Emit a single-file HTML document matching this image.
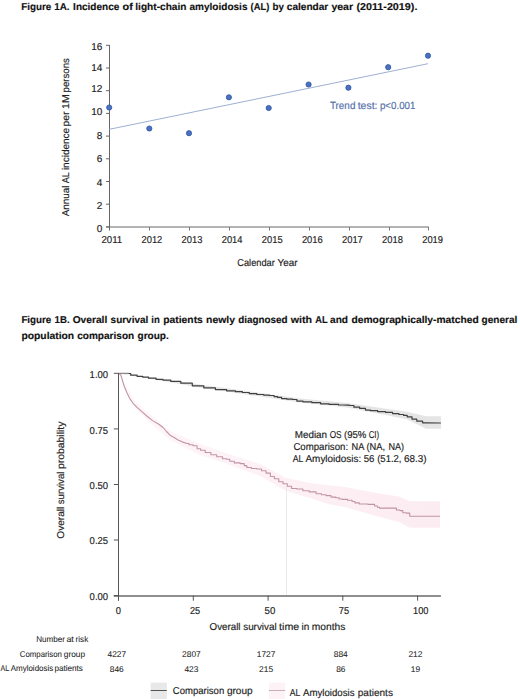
<!DOCTYPE html>
<html><head><meta charset="utf-8"><style>
html,body{margin:0;padding:0;background:#fff;}
body{width:520px;height:699px;overflow:hidden;}
svg{display:block;font-family:"Liberation Sans", sans-serif;text-rendering:geometricPrecision;}
</style></head><body>
<svg width="520" height="699" viewBox="0 0 520 699">
<g shape-rendering="auto">
<line x1="106" y1="227" x2="428.8" y2="227" stroke="#9a9a9a" stroke-width="1.6"/>
<line x1="109.5" y1="45" x2="109.5" y2="230.5" stroke="#666" stroke-width="1"/>
<line x1="106" y1="226.9" x2="109.5" y2="226.9" stroke="#666" stroke-width="1"/>
<line x1="106" y1="204.2" x2="109.5" y2="204.2" stroke="#666" stroke-width="1"/>
<line x1="106" y1="181.5" x2="109.5" y2="181.5" stroke="#666" stroke-width="1"/>
<line x1="106" y1="158.8" x2="109.5" y2="158.8" stroke="#666" stroke-width="1"/>
<line x1="106" y1="136.1" x2="109.5" y2="136.1" stroke="#666" stroke-width="1"/>
<line x1="106" y1="113.4" x2="109.5" y2="113.4" stroke="#666" stroke-width="1"/>
<line x1="106" y1="90.7" x2="109.5" y2="90.7" stroke="#666" stroke-width="1"/>
<line x1="106" y1="68.0" x2="109.5" y2="68.0" stroke="#666" stroke-width="1"/>
<line x1="106" y1="45.3" x2="109.5" y2="45.3" stroke="#666" stroke-width="1"/>
<line x1="149.5" y1="227" x2="149.5" y2="230.5" stroke="#7a7a7a" stroke-width="1"/>
<line x1="189.5" y1="227" x2="189.5" y2="230.5" stroke="#7a7a7a" stroke-width="1"/>
<line x1="229.5" y1="227" x2="229.5" y2="230.5" stroke="#7a7a7a" stroke-width="1"/>
<line x1="269.5" y1="227" x2="269.5" y2="230.5" stroke="#7a7a7a" stroke-width="1"/>
<line x1="309.5" y1="227" x2="309.5" y2="230.5" stroke="#7a7a7a" stroke-width="1"/>
<line x1="349.5" y1="227" x2="349.5" y2="230.5" stroke="#7a7a7a" stroke-width="1"/>
<line x1="389.5" y1="227" x2="389.5" y2="230.5" stroke="#7a7a7a" stroke-width="1"/>
<line x1="428.5" y1="227" x2="428.5" y2="230.5" stroke="#7a7a7a" stroke-width="1"/>
<line x1="109.3" y1="129.3" x2="428" y2="63.7" stroke="#9fb0d4" stroke-width="1"/>
<circle cx="109.2" cy="107.5" r="2.6" fill="#4a72c0" stroke="#2f55a3" stroke-width="0.8"/>
<circle cx="149.3" cy="128.5" r="2.6" fill="#4a72c0" stroke="#2f55a3" stroke-width="0.8"/>
<circle cx="189.0" cy="133.2" r="2.6" fill="#4a72c0" stroke="#2f55a3" stroke-width="0.8"/>
<circle cx="228.9" cy="97.3" r="2.6" fill="#4a72c0" stroke="#2f55a3" stroke-width="0.8"/>
<circle cx="268.7" cy="108.0" r="2.6" fill="#4a72c0" stroke="#2f55a3" stroke-width="0.8"/>
<circle cx="308.6" cy="84.5" r="2.6" fill="#4a72c0" stroke="#2f55a3" stroke-width="0.8"/>
<circle cx="348.4" cy="87.7" r="2.6" fill="#4a72c0" stroke="#2f55a3" stroke-width="0.8"/>
<circle cx="388.2" cy="67.2" r="2.6" fill="#4a72c0" stroke="#2f55a3" stroke-width="0.8"/>
<circle cx="428.0" cy="55.7" r="2.6" fill="#4a72c0" stroke="#2f55a3" stroke-width="0.8"/>
</g>
<defs><linearGradient id="gb" gradientUnits="userSpaceOnUse" x1="118" y1="0" x2="440" y2="0"><stop offset="0" stop-color="#fef6f8"/><stop offset="0.55" stop-color="#fdf0f4"/><stop offset="1" stop-color="#fbecf1"/></linearGradient></defs>
<polygon points="118.5,373.3 125.0,384.0 135.0,401.0 150.0,414.0 170.0,431.0 200.0,444.0 230.0,454.5 260.0,464.0 285.0,477.5 310.0,483.0 330.0,485.5 345.0,487.0 376.0,493.0 399.0,496.5 409.6,501.2 440.0,501.2 440.0,527.7 409.6,527.7 399.0,522.0 376.0,516.0 345.0,507.0 330.0,504.6 310.0,498.0 285.0,490.5 260.0,476.0 230.0,465.0 200.0,455.0 170.0,440.0 150.0,423.0 135.0,408.0 125.0,389.0 118.5,373.3" fill="url(#gb)"/>
<polygon points="118.5,373.0 200.0,384.5 300.0,398.5 347.0,403.0 407.0,411.8 426.0,416.3 441.0,416.3 441.0,428.8 426.0,428.8 407.0,419.3 347.0,407.5 300.0,402.5 200.0,387.5 118.5,373.6" fill="#e5e5e5"/>
<line x1="286.5" y1="486" x2="286.5" y2="595.5" stroke="#eeeaec" stroke-width="1"/>
<polyline points="118.5,373.3 120.9,375.0 122.6,380.8 124.3,386.5 126.7,392.3 129.5,398.1 133.0,403.3 137.6,407.9 142.2,411.9 146.8,416.0 152.6,420.6 158.4,424.0 163.0,427.5 166.5,431.5 170.0,435.2 174.6,437.7 178.1,440.0 182.7,442.1 187.3,443.5 189.1,443.5 189.1,444.8 190.8,444.8 193.1,444.8 193.1,445.8 195.4,445.8 197.1,445.8 197.1,448.7 198.8,448.7 200.6,448.7 200.6,450.2 202.3,450.2 205.2,450.2 205.2,452.5 208.1,452.5 210.9,452.5 210.9,454.8 213.8,454.8 216.7,454.8 216.7,456.7 219.6,456.7 222.5,456.7 222.5,458.7 225.4,458.7 226.7,458.7 226.7,459.2 228.0,459.2 229.8,459.2 229.8,461.3 231.5,461.3 234.3,461.3 234.3,462.9 237.2,462.9 240.1,462.9 240.1,463.6 243.0,463.6 244.2,463.6 244.2,465.6 245.3,465.6 246.8,465.6 246.8,467.5 248.2,467.5 251.3,467.5 251.3,468.5 254.5,468.5 256.9,468.5 256.9,469.0 259.2,469.0 261.5,469.0 261.5,470.8 263.8,470.8 266.1,470.8 266.1,473.1 268.4,473.1 270.4,473.1 270.4,476.5 272.4,476.5 274.4,476.5 274.4,478.8 276.5,478.8 278.8,478.8 278.8,481.7 281.1,481.7 283.1,481.7 283.1,483.8 285.0,483.8 287.3,483.8 287.3,486.2 289.6,486.2 291.6,486.2 291.6,488.5 293.7,488.5 296.9,488.5 296.9,489.0 300.0,489.0 302.9,489.0 302.9,490.8 305.8,490.8 309.2,490.8 309.2,491.9 312.7,491.9 316.1,491.9 316.1,493.7 319.6,493.7 321.4,493.7 321.4,494.8 323.1,494.8 326.0,494.8 326.0,495.6 328.8,495.6 331.1,495.6 331.1,497.1 333.5,497.1 335.8,497.1 335.8,497.7 338.1,497.7 339.2,497.7 339.2,499.0 340.4,499.0 342.5,499.0 342.5,499.4 344.6,499.4 347.5,499.4 347.5,500.3 350.4,500.3 352.1,500.3 352.1,501.5 353.8,501.5 355.0,501.5 355.0,502.9 356.2,502.9 359.4,502.9 359.4,504.0 362.5,504.0 368.0,504.0 368.0,504.4 373.5,504.4 374.6,504.4 374.6,506.0 375.8,506.0 377.5,506.0 377.5,507.2 379.2,507.2 379.5,507.2 379.5,508.1 379.8,508.1 395.4,508.1 396.4,508.1 396.4,510.0 397.5,510.0 400.0,510.0 400.0,510.6 402.5,510.6 402.8,510.6 402.8,512.8 403.1,512.8 406.2,512.8 406.2,513.1 409.4,513.1 409.7,513.1 409.7,516.3 410.0,516.3 440.0,516.3" fill="none" stroke="#c294a8" stroke-width="1.1" stroke-linejoin="round"/>
<polyline points="118.5,373.3 128.6,373.4" fill="none" stroke="#8a8a8a" stroke-width="1.2"/>
<polyline points="128.4,373.5 130.7,373.5 130.7,375.2 133.0,375.2 137.1,375.2 137.1,376.3 141.1,376.3 142.8,376.3 142.8,377.2 144.5,377.2 148.6,377.2 148.6,378.2 152.6,378.2 156.1,378.2 156.1,379.3 159.5,379.3 163.0,379.3 163.0,380.1 166.5,380.1 170.8,380.1 170.8,381.4 175.0,381.4 180.8,381.4 180.8,383.2 186.5,383.2 192.3,383.2 192.3,385.8 198.1,385.8 203.8,385.8 203.8,387.9 209.6,387.9 215.4,387.9 215.4,389.6 221.2,389.6 226.6,389.6 226.6,390.8 232.0,390.8 235.4,390.8 235.4,391.7 238.9,391.7 242.4,391.7 242.4,392.5 245.8,392.5 249.3,392.5 249.3,393.6 252.8,393.6 256.8,393.6 256.8,394.5 260.8,394.5 263.7,394.5 263.7,395.1 266.6,395.1 269.5,395.1 269.5,395.5 272.4,395.5 274.1,395.5 274.1,396.6 275.8,396.6 277.6,396.6 277.6,397.4 279.3,397.4 281.6,397.4 281.6,398.6 283.9,398.6 286.9,398.6 286.9,399.2 290.0,399.2 292.6,399.2 292.6,399.5 295.2,399.5 296.9,399.5 296.9,401.2 298.7,401.2 303.0,401.2 303.0,401.8 307.3,401.8 311.9,401.8 311.9,402.7 316.5,402.7 320.6,402.7 320.6,403.8 324.6,403.8 329.2,403.8 329.2,404.4 333.8,404.4 338.5,404.4 338.5,405.0 343.1,405.0 347.0,405.2 349.3,405.2 349.3,405.5 351.6,405.5 353.9,405.5 353.9,407.2 356.2,407.2 359.7,407.2 359.7,408.4 363.2,408.4 365.5,408.4 365.5,410.1 367.8,410.1 370.6,410.1 370.6,410.7 373.5,410.7 377.6,410.7 377.6,411.6 381.6,411.6 385.6,411.6 385.6,412.4 389.7,412.4 392.6,412.4 392.6,413.6 395.5,413.6 398.9,413.6 398.9,414.5 402.4,414.5 403.6,414.5 403.6,415.4 404.8,415.4 407.2,415.4 407.2,416.8 409.6,416.8 412.0,416.8 412.0,419.2 414.4,419.2 416.8,419.2 416.8,421.2 419.2,421.2 422.6,421.2 422.6,422.8 426.0,422.8 440.9,423.0" fill="none" stroke="#404040" stroke-width="1.2" stroke-linejoin="round"/>
<line x1="118.5" y1="373.3" x2="118.5" y2="600.7" stroke="#555" stroke-width="1"/>
<line x1="113.8" y1="596" x2="440.9" y2="596" stroke="#6a6a6a" stroke-width="1.5"/>
<line x1="113.8" y1="373.3" x2="118.5" y2="373.3" stroke="#555" stroke-width="1"/>
<line x1="113.8" y1="428.9" x2="118.5" y2="428.9" stroke="#555" stroke-width="1"/>
<line x1="113.8" y1="484.5" x2="118.5" y2="484.5" stroke="#555" stroke-width="1"/>
<line x1="113.8" y1="540.0" x2="118.5" y2="540.0" stroke="#555" stroke-width="1"/>
<line x1="113.8" y1="595.6" x2="118.5" y2="595.6" stroke="#555" stroke-width="1"/>
<line x1="118.5" y1="595.6" x2="118.5" y2="600.7" stroke="#555" stroke-width="1"/>
<line x1="193.3" y1="595.6" x2="193.3" y2="600.7" stroke="#555" stroke-width="1"/>
<line x1="268.1" y1="595.6" x2="268.1" y2="600.7" stroke="#555" stroke-width="1"/>
<line x1="342.8" y1="595.6" x2="342.8" y2="600.7" stroke="#555" stroke-width="1"/>
<line x1="417.6" y1="595.6" x2="417.6" y2="600.7" stroke="#555" stroke-width="1"/>
<rect x="150.6" y="682.6" width="16.2" height="16.4" fill="#e8e8e8"/>
<line x1="150.6" y1="690.5" x2="166.8" y2="690.5" stroke="#555" stroke-width="1"/>
<rect x="269" y="682.6" width="16.2" height="16.4" fill="#fdf3f6"/>
<line x1="269" y1="690.5" x2="285.2" y2="690.5" stroke="#c9adbb" stroke-width="1"/>
<text x="21.3" y="9.6" font-size="10.00" fill="#111" font-weight="bold" textLength="30.0" lengthAdjust="spacingAndGlyphs" stroke="#111" stroke-width="0.15">Figure</text>
<text x="54.3" y="9.6" font-size="10.00" fill="#111" font-weight="bold" textLength="15.3" lengthAdjust="spacingAndGlyphs" stroke="#111" stroke-width="0.15">1A.</text>
<text x="73.1" y="9.6" font-size="10.00" fill="#111" font-weight="bold" textLength="46.2" lengthAdjust="spacingAndGlyphs" stroke="#111" stroke-width="0.15">Incidence</text>
<text x="122.6" y="9.6" font-size="10.00" fill="#111" font-weight="bold" textLength="10.3" lengthAdjust="spacingAndGlyphs" stroke="#111" stroke-width="0.15">of</text>
<text x="135.3" y="9.6" font-size="10.00" fill="#111" font-weight="bold" textLength="51.2" lengthAdjust="spacingAndGlyphs" stroke="#111" stroke-width="0.15">light-chain</text>
<text x="189.5" y="9.6" font-size="10.00" fill="#111" font-weight="bold" textLength="58.0" lengthAdjust="spacingAndGlyphs" stroke="#111" stroke-width="0.15">amyloidosis</text>
<text x="250.6" y="9.6" font-size="10.00" fill="#111" font-weight="bold" textLength="18.7" lengthAdjust="spacingAndGlyphs" stroke="#111" stroke-width="0.15">(AL)</text>
<text x="272.6" y="9.6" font-size="10.00" fill="#111" font-weight="bold" textLength="11.4" lengthAdjust="spacingAndGlyphs" stroke="#111" stroke-width="0.15">by</text>
<text x="286.8" y="9.6" font-size="10.00" fill="#111" font-weight="bold" textLength="41.5" lengthAdjust="spacingAndGlyphs" stroke="#111" stroke-width="0.15">calendar</text>
<text x="331.4" y="9.6" font-size="10.00" fill="#111" font-weight="bold" textLength="21.7" lengthAdjust="spacingAndGlyphs" stroke="#111" stroke-width="0.15">year</text>
<text x="356.4" y="9.6" font-size="10.00" fill="#111" font-weight="bold" textLength="61.0" lengthAdjust="spacingAndGlyphs" stroke="#111" stroke-width="0.15">(2011-2019).</text>
<text x="102.4" y="231.8" font-size="10.00" fill="#222" text-anchor="end" stroke="#222" stroke-width="0.16">0</text>
<text x="102.4" y="209.1" font-size="10.00" fill="#222" text-anchor="end" stroke="#222" stroke-width="0.16">2</text>
<text x="102.4" y="186.1" font-size="10.00" fill="#222" text-anchor="end" stroke="#222" stroke-width="0.16">4</text>
<text x="102.4" y="162.2" font-size="10.00" fill="#222" text-anchor="end" stroke="#222" stroke-width="0.16">6</text>
<text x="102.4" y="138.6" font-size="10.00" fill="#222" text-anchor="end" stroke="#222" stroke-width="0.16">8</text>
<text x="102.4" y="115.4" font-size="10.00" fill="#222" text-anchor="end" stroke="#222" stroke-width="0.16">10</text>
<text x="102.4" y="92.0" font-size="10.00" fill="#222" text-anchor="end" stroke="#222" stroke-width="0.16">12</text>
<text x="102.4" y="71.1" font-size="10.00" fill="#222" text-anchor="end" stroke="#222" stroke-width="0.16">14</text>
<text x="102.4" y="50.2" font-size="10.00" fill="#222" text-anchor="end" stroke="#222" stroke-width="0.16">16</text>
<text x="111.8" y="243.2" font-size="10.00" fill="#222" text-anchor="middle" textLength="20.8" lengthAdjust="spacingAndGlyphs" stroke="#222" stroke-width="0.16">2011</text>
<text x="151.9" y="243.2" font-size="10.00" fill="#222" text-anchor="middle" textLength="20.8" lengthAdjust="spacingAndGlyphs" stroke="#222" stroke-width="0.16">2012</text>
<text x="192.0" y="243.2" font-size="10.00" fill="#222" text-anchor="middle" textLength="20.8" lengthAdjust="spacingAndGlyphs" stroke="#222" stroke-width="0.16">2013</text>
<text x="232.1" y="243.2" font-size="10.00" fill="#222" text-anchor="middle" textLength="20.8" lengthAdjust="spacingAndGlyphs" stroke="#222" stroke-width="0.16">2014</text>
<text x="272.2" y="243.2" font-size="10.00" fill="#222" text-anchor="middle" textLength="20.8" lengthAdjust="spacingAndGlyphs" stroke="#222" stroke-width="0.16">2015</text>
<text x="312.3" y="243.2" font-size="10.00" fill="#222" text-anchor="middle" textLength="20.8" lengthAdjust="spacingAndGlyphs" stroke="#222" stroke-width="0.16">2016</text>
<text x="352.4" y="243.2" font-size="10.00" fill="#222" text-anchor="middle" textLength="20.8" lengthAdjust="spacingAndGlyphs" stroke="#222" stroke-width="0.16">2017</text>
<text x="392.5" y="243.2" font-size="10.00" fill="#222" text-anchor="middle" textLength="20.8" lengthAdjust="spacingAndGlyphs" stroke="#222" stroke-width="0.16">2018</text>
<text x="432.6" y="243.2" font-size="10.00" fill="#222" text-anchor="middle" textLength="20.8" lengthAdjust="spacingAndGlyphs" stroke="#222" stroke-width="0.16">2019</text>
<text x="237.3" y="265.7" font-size="10.00" fill="#222" textLength="37.5" lengthAdjust="spacingAndGlyphs" stroke="#222" stroke-width="0.16">Calendar</text>
<text x="277.6" y="265.7" font-size="10.00" fill="#222" textLength="20.0" lengthAdjust="spacingAndGlyphs" stroke="#222" stroke-width="0.16">Year</text>
<text x="69.2" y="216.2" font-size="9.90" fill="#222" textLength="30.6" lengthAdjust="spacingAndGlyphs" transform="rotate(-90 69.2 216.2)" stroke="#222" stroke-width="0.16">Annual</text>
<text x="69.2" y="183.2" font-size="9.90" fill="#222" textLength="11.1" lengthAdjust="spacingAndGlyphs" transform="rotate(-90 69.2 183.2)" stroke="#222" stroke-width="0.16">AL</text>
<text x="69.2" y="170.1" font-size="9.90" fill="#222" textLength="42.3" lengthAdjust="spacingAndGlyphs" transform="rotate(-90 69.2 170.1)" stroke="#222" stroke-width="0.16">incidence</text>
<text x="69.2" y="126.6" font-size="9.90" fill="#222" textLength="15.1" lengthAdjust="spacingAndGlyphs" transform="rotate(-90 69.2 126.6)" stroke="#222" stroke-width="0.16">per</text>
<text x="69.2" y="108.9" font-size="9.90" fill="#222" textLength="14.7" lengthAdjust="spacingAndGlyphs" transform="rotate(-90 69.2 108.9)" stroke="#222" stroke-width="0.16">1M</text>
<text x="69.2" y="92.4" font-size="9.90" fill="#222" textLength="34.2" lengthAdjust="spacingAndGlyphs" transform="rotate(-90 69.2 92.4)" stroke="#222" stroke-width="0.16">persons</text>
<text x="329.9" y="108.8" font-size="10.40" fill="#5470aa" textLength="25.5" lengthAdjust="spacingAndGlyphs" stroke="#5470aa" stroke-width="0.16">Trend</text>
<text x="357.7" y="108.8" font-size="10.40" fill="#5470aa" textLength="19.8" lengthAdjust="spacingAndGlyphs" stroke="#5470aa" stroke-width="0.16">test:</text>
<text x="379.9" y="108.8" font-size="10.40" fill="#5470aa" textLength="35.5" lengthAdjust="spacingAndGlyphs" stroke="#5470aa" stroke-width="0.16">p&lt;0.001</text>
<text x="21.4" y="322.8" font-size="10.00" fill="#111" font-weight="bold" textLength="29.9" lengthAdjust="spacingAndGlyphs" stroke="#111" stroke-width="0.15">Figure</text>
<text x="54.6" y="322.8" font-size="10.00" fill="#111" font-weight="bold" textLength="15.0" lengthAdjust="spacingAndGlyphs" stroke="#111" stroke-width="0.15">1B.</text>
<text x="72.7" y="322.8" font-size="10.00" fill="#111" font-weight="bold" textLength="34.6" lengthAdjust="spacingAndGlyphs" stroke="#111" stroke-width="0.15">Overall</text>
<text x="110.6" y="322.8" font-size="10.00" fill="#111" font-weight="bold" textLength="37.7" lengthAdjust="spacingAndGlyphs" stroke="#111" stroke-width="0.15">survival</text>
<text x="151.3" y="322.8" font-size="10.00" fill="#111" font-weight="bold" textLength="8.5" lengthAdjust="spacingAndGlyphs" stroke="#111" stroke-width="0.15">in</text>
<text x="163.3" y="322.8" font-size="10.00" fill="#111" font-weight="bold" textLength="39.5" lengthAdjust="spacingAndGlyphs" stroke="#111" stroke-width="0.15">patients</text>
<text x="206.1" y="322.8" font-size="10.00" fill="#111" font-weight="bold" textLength="28.9" lengthAdjust="spacingAndGlyphs" stroke="#111" stroke-width="0.15">newly</text>
<text x="238.3" y="322.8" font-size="10.00" fill="#111" font-weight="bold" textLength="49.3" lengthAdjust="spacingAndGlyphs" stroke="#111" stroke-width="0.15">diagnosed</text>
<text x="290.7" y="322.8" font-size="10.00" fill="#111" font-weight="bold" textLength="21.3" lengthAdjust="spacingAndGlyphs" stroke="#111" stroke-width="0.15">with</text>
<text x="315.3" y="322.8" font-size="10.00" fill="#111" font-weight="bold" textLength="12.3" lengthAdjust="spacingAndGlyphs" stroke="#111" stroke-width="0.15">AL</text>
<text x="330.0" y="322.8" font-size="10.00" fill="#111" font-weight="bold" textLength="18.0" lengthAdjust="spacingAndGlyphs" stroke="#111" stroke-width="0.15">and</text>
<text x="351.5" y="322.8" font-size="10.00" fill="#111" font-weight="bold" textLength="127.2" lengthAdjust="spacingAndGlyphs" stroke="#111" stroke-width="0.15">demographically-matched</text>
<text x="481.5" y="322.8" font-size="10.00" fill="#111" font-weight="bold" textLength="35.8" lengthAdjust="spacingAndGlyphs" stroke="#111" stroke-width="0.15">general</text>
<text x="21.4" y="338.5" font-size="10.00" fill="#111" font-weight="bold" textLength="52.8" lengthAdjust="spacingAndGlyphs" stroke="#111" stroke-width="0.15">population</text>
<text x="77.2" y="338.5" font-size="10.00" fill="#111" font-weight="bold" textLength="57.0" lengthAdjust="spacingAndGlyphs" stroke="#111" stroke-width="0.15">comparison</text>
<text x="137.5" y="338.5" font-size="10.00" fill="#111" font-weight="bold" textLength="31.2" lengthAdjust="spacingAndGlyphs" stroke="#111" stroke-width="0.15">group.</text>
<text x="89.6" y="377.9" font-size="10.00" fill="#222" textLength="18.5" lengthAdjust="spacingAndGlyphs" stroke="#222" stroke-width="0.16">1.00</text>
<text x="89.6" y="433.5" font-size="10.00" fill="#222" textLength="18.5" lengthAdjust="spacingAndGlyphs" stroke="#222" stroke-width="0.16">0.75</text>
<text x="89.6" y="488.8" font-size="10.00" fill="#222" textLength="18.5" lengthAdjust="spacingAndGlyphs" stroke="#222" stroke-width="0.16">0.50</text>
<text x="89.6" y="543.5" font-size="10.00" fill="#222" textLength="18.5" lengthAdjust="spacingAndGlyphs" stroke="#222" stroke-width="0.16">0.25</text>
<text x="89.6" y="599.9" font-size="10.00" fill="#222" textLength="18.5" lengthAdjust="spacingAndGlyphs" stroke="#222" stroke-width="0.16">0.00</text>
<text x="118.4" y="614.4" font-size="10.00" fill="#222" text-anchor="middle" textLength="5.2" lengthAdjust="spacingAndGlyphs" stroke="#222" stroke-width="0.16">0</text>
<text x="195.1" y="614.4" font-size="10.00" fill="#222" text-anchor="middle" textLength="10.2" lengthAdjust="spacingAndGlyphs" stroke="#222" stroke-width="0.16">25</text>
<text x="269.9" y="614.4" font-size="10.00" fill="#222" text-anchor="middle" textLength="10.7" lengthAdjust="spacingAndGlyphs" stroke="#222" stroke-width="0.16">50</text>
<text x="343.9" y="614.4" font-size="10.00" fill="#222" text-anchor="middle" textLength="10.3" lengthAdjust="spacingAndGlyphs" stroke="#222" stroke-width="0.16">75</text>
<text x="420.7" y="614.4" font-size="10.00" fill="#222" text-anchor="middle" textLength="15.4" lengthAdjust="spacingAndGlyphs" stroke="#222" stroke-width="0.16">100</text>
<text x="209.6" y="629.6" font-size="10.00" fill="#222" textLength="30.9" lengthAdjust="spacingAndGlyphs" stroke="#222" stroke-width="0.16">Overall</text>
<text x="243.2" y="629.6" font-size="10.00" fill="#222" textLength="33.5" lengthAdjust="spacingAndGlyphs" stroke="#222" stroke-width="0.16">survival</text>
<text x="279.1" y="629.6" font-size="10.00" fill="#222" textLength="20.1" lengthAdjust="spacingAndGlyphs" stroke="#222" stroke-width="0.16">time</text>
<text x="301.5" y="629.6" font-size="10.00" fill="#222" textLength="7.8" lengthAdjust="spacingAndGlyphs" stroke="#222" stroke-width="0.16">in</text>
<text x="311.8" y="629.6" font-size="10.00" fill="#222" textLength="33.6" lengthAdjust="spacingAndGlyphs" stroke="#222" stroke-width="0.16">months</text>
<text x="63.8" y="538.7" font-size="10.00" fill="#222" textLength="32.0" lengthAdjust="spacingAndGlyphs" transform="rotate(-90 63.8 538.7)" stroke="#222" stroke-width="0.16">Overall</text>
<text x="63.8" y="504.2" font-size="10.00" fill="#222" textLength="32.6" lengthAdjust="spacingAndGlyphs" transform="rotate(-90 63.8 504.2)" stroke="#222" stroke-width="0.16">survival</text>
<text x="63.8" y="469.1" font-size="10.00" fill="#222" textLength="47.5" lengthAdjust="spacingAndGlyphs" transform="rotate(-90 63.8 469.1)" stroke="#222" stroke-width="0.16">probability</text>
<text x="294.7" y="437.5" font-size="10.00" fill="#222" textLength="32.4" lengthAdjust="spacingAndGlyphs" stroke="#222" stroke-width="0.16">Median</text>
<text x="329.7" y="437.5" font-size="10.00" fill="#222" textLength="11.9" lengthAdjust="spacingAndGlyphs" stroke="#222" stroke-width="0.16">OS</text>
<text x="344.0" y="437.5" font-size="10.00" fill="#222" textLength="22.4" lengthAdjust="spacingAndGlyphs" stroke="#222" stroke-width="0.16">(95%</text>
<text x="368.7" y="437.5" font-size="10.00" fill="#222" textLength="10.5" lengthAdjust="spacingAndGlyphs" stroke="#222" stroke-width="0.16">CI)</text>
<text x="293.4" y="449.9" font-size="10.00" fill="#222" textLength="54.7" lengthAdjust="spacingAndGlyphs" stroke="#222" stroke-width="0.16">Comparison:</text>
<text x="351.6" y="449.9" font-size="10.00" fill="#222" textLength="12.8" lengthAdjust="spacingAndGlyphs" stroke="#222" stroke-width="0.16">NA</text>
<text x="366.5" y="449.9" font-size="10.00" fill="#222" textLength="18.6" lengthAdjust="spacingAndGlyphs" stroke="#222" stroke-width="0.16">(NA,</text>
<text x="388.4" y="449.9" font-size="10.00" fill="#222" textLength="15.6" lengthAdjust="spacingAndGlyphs" stroke="#222" stroke-width="0.16">NA)</text>
<text x="292.8" y="461.7" font-size="10.00" fill="#222" textLength="10.6" lengthAdjust="spacingAndGlyphs" stroke="#222" stroke-width="0.16">AL</text>
<text x="305.5" y="461.7" font-size="10.00" fill="#222" textLength="55.7" lengthAdjust="spacingAndGlyphs" stroke="#222" stroke-width="0.16">Amyloidosis:</text>
<text x="363.7" y="461.7" font-size="10.00" fill="#222" textLength="10.7" lengthAdjust="spacingAndGlyphs" stroke="#222" stroke-width="0.16">56</text>
<text x="377.2" y="461.7" font-size="10.00" fill="#222" textLength="24.3" lengthAdjust="spacingAndGlyphs" stroke="#222" stroke-width="0.16">(51.2,</text>
<text x="404.0" y="461.7" font-size="10.00" fill="#222" textLength="22.6" lengthAdjust="spacingAndGlyphs" stroke="#222" stroke-width="0.16">68.3)</text>
<text x="36.3" y="641.5" font-size="8.40" fill="#222" textLength="28.7" lengthAdjust="spacingAndGlyphs" stroke="#222" stroke-width="0.06">Number</text>
<text x="66.4" y="641.5" font-size="8.40" fill="#222" textLength="7.4" lengthAdjust="spacingAndGlyphs" stroke="#222" stroke-width="0.06">at</text>
<text x="75.6" y="641.5" font-size="8.40" fill="#222" textLength="12.6" lengthAdjust="spacingAndGlyphs" stroke="#222" stroke-width="0.06">risk</text>
<text x="19.8" y="656.5" font-size="8.40" fill="#222" textLength="42.1" lengthAdjust="spacingAndGlyphs" stroke="#222" stroke-width="0.06">Comparison</text>
<text x="63.8" y="656.5" font-size="8.40" fill="#222" textLength="21.3" lengthAdjust="spacingAndGlyphs" stroke="#222" stroke-width="0.06">group</text>
<text x="0.6" y="670.8" font-size="8.40" fill="#222" textLength="8.7" lengthAdjust="spacingAndGlyphs" stroke="#222" stroke-width="0.06">AL</text>
<text x="10.7" y="670.8" font-size="8.40" fill="#222" textLength="42.6" lengthAdjust="spacingAndGlyphs" stroke="#222" stroke-width="0.06">Amyloidosis</text>
<text x="54.4" y="670.8" font-size="8.40" fill="#222" textLength="28.5" lengthAdjust="spacingAndGlyphs" stroke="#222" stroke-width="0.06">patients</text>
<text x="116.8" y="656.9" font-size="8.40" fill="#222" text-anchor="middle" stroke="#222" stroke-width="0.06">4227</text>
<text x="116.8" y="671.7" font-size="8.40" fill="#222" text-anchor="middle" stroke="#222" stroke-width="0.06">846</text>
<text x="191.4" y="656.9" font-size="8.40" fill="#222" text-anchor="middle" stroke="#222" stroke-width="0.06">2807</text>
<text x="191.4" y="671.7" font-size="8.40" fill="#222" text-anchor="middle" stroke="#222" stroke-width="0.06">423</text>
<text x="266.1" y="656.9" font-size="8.40" fill="#222" text-anchor="middle" stroke="#222" stroke-width="0.06">1727</text>
<text x="266.1" y="671.7" font-size="8.40" fill="#222" text-anchor="middle" stroke="#222" stroke-width="0.06">215</text>
<text x="340.8" y="656.9" font-size="8.40" fill="#222" text-anchor="middle" stroke="#222" stroke-width="0.06">884</text>
<text x="340.8" y="671.7" font-size="8.40" fill="#222" text-anchor="middle" stroke="#222" stroke-width="0.06">86</text>
<text x="415.4" y="656.9" font-size="8.40" fill="#222" text-anchor="middle" stroke="#222" stroke-width="0.06">212</text>
<text x="415.4" y="671.7" font-size="8.40" fill="#222" text-anchor="middle" stroke="#222" stroke-width="0.06">19</text>
<text x="172.8" y="694.4" font-size="10.00" fill="#222" textLength="51.4" lengthAdjust="spacingAndGlyphs" stroke="#222" stroke-width="0.16">Comparison</text>
<text x="226.9" y="694.4" font-size="10.00" fill="#222" textLength="25.7" lengthAdjust="spacingAndGlyphs" stroke="#222" stroke-width="0.16">group</text>
<text x="289.7" y="695.6" font-size="10.00" fill="#222" textLength="10.6" lengthAdjust="spacingAndGlyphs" stroke="#222" stroke-width="0.16">AL</text>
<text x="303.0" y="695.6" font-size="10.00" fill="#222" textLength="51.5" lengthAdjust="spacingAndGlyphs" stroke="#222" stroke-width="0.16">Amyloidosis</text>
<text x="357.8" y="695.6" font-size="10.00" fill="#222" textLength="35.1" lengthAdjust="spacingAndGlyphs" stroke="#222" stroke-width="0.16">patients</text>
</svg>
</body></html>
